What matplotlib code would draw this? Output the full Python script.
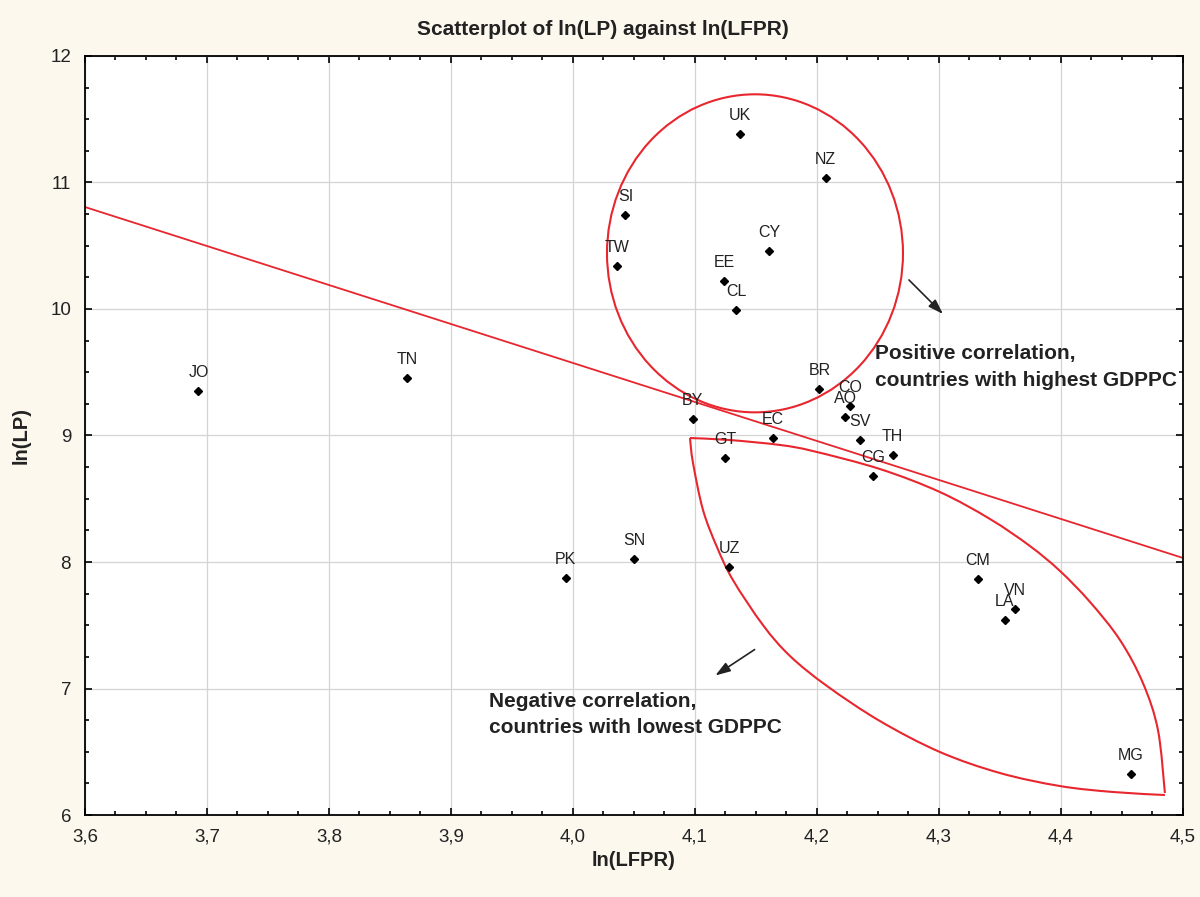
import numpy as np
import matplotlib
matplotlib.use("Agg")
import matplotlib.pyplot as plt
from matplotlib.patches import Ellipse, PathPatch
from matplotlib.path import Path
from matplotlib.ticker import MultipleLocator, FuncFormatter

plt.rcParams["font.family"] = ["Liberation Sans", "DejaVu Sans"]

# ---- data: country codes, ln(LFPR), ln(LP) ----
codes = ["JO", "TN", "PK", "SN", "SI", "TW", "UK", "NZ", "CY", "EE", "CL",
         "BR", "CO", "AO", "SV", "TH", "CG", "BY", "EC", "GT", "UZ",
         "CM", "VN", "LA", "MG"]
ln_lfpr = [3.693, 3.864, 3.994, 4.050, 4.043, 4.036, 4.137, 4.207, 4.161,
           4.124, 4.134, 4.202, 4.227, 4.223, 4.235, 4.262, 4.246, 4.098,
           4.164, 4.125, 4.128, 4.332, 4.362, 4.354, 4.457]
ln_lp = [9.352, 9.455, 7.874, 8.024, 10.743, 10.340, 11.383, 11.036, 10.458,
         10.221, 9.992, 9.368, 9.233, 9.146, 8.964, 8.846, 8.680, 9.130,
         8.980, 8.822, 7.960, 7.866, 7.628, 7.541, 6.324]

# fitted line end points
fit_x = [3.6, 4.5]
fit_y = [10.806, 8.032]

# circled group (high GDPPC): centre, width, height
circ_centre = (4.1492, 10.44)
circ_w, circ_h = 0.2426, 2.514

# lens-shaped group (low GDPPC), outline
lens_top_x = [4.0959, 4.1287, 4.1697, 4.1967, 4.2516, 4.3008, 4.3418, 4.3746,
              4.3992, 4.4238, 4.4484, 4.4672, 4.4795, 4.4852]
lens_top_y = [8.980, 8.964, 8.925, 8.877, 8.735, 8.553, 8.340, 8.126,
              7.929, 7.684, 7.383, 7.043, 6.672, 6.174]
lens_bot_x = [4.0959, 4.0984, 4.1066, 4.1180, 4.1311, 4.1557, 4.1779, 4.2082,
              4.2516, 4.3008, 4.3500, 4.3992, 4.4426, 4.4852]
lens_bot_y = [8.980, 8.783, 8.411, 8.119, 7.858, 7.502, 7.257, 7.020,
              6.743, 6.498, 6.332, 6.229, 6.182, 6.158]

RED = "#e8262e"
BG = "#fcf8ee"
INK = "#222222"


def smooth_path(xs, ys):
    # Catmull-Rom spline through the traced points, as cubic Bezier segments
    p = np.column_stack([xs, ys])
    p = np.vstack([p[0], p, p[-1]])
    verts = [p[1]]
    kinds = [Path.MOVETO]
    for i in range(1, len(p) - 2):
        c1 = p[i] + (p[i + 1] - p[i - 1]) / 6.0
        c2 = p[i + 1] - (p[i + 2] - p[i]) / 6.0
        verts += [c1, c2, p[i + 1]]
        kinds += [Path.CURVE4] * 3
    return Path(verts, kinds)


fig = plt.figure(figsize=(12, 8.97), dpi=100, facecolor=BG)
ax = fig.add_axes([0.0708, 0.0914, 0.915, 0.8462])
ax.set_facecolor("white")

ax.set_xlim(3.6, 4.5)
ax.set_ylim(6, 12)
ax.xaxis.set_major_locator(MultipleLocator(0.1))
ax.xaxis.set_minor_locator(MultipleLocator(0.025))
ax.yaxis.set_major_locator(MultipleLocator(1))
ax.yaxis.set_minor_locator(MultipleLocator(0.25))
ax.xaxis.set_major_formatter(FuncFormatter(lambda v, p: ("%.1f" % v).replace(".", ",")))
ax.yaxis.set_major_formatter(FuncFormatter(lambda v, p: "%d" % round(v)))
ax.tick_params(which="both", direction="in", top=True, right=True, width=1.2,
               labelcolor=INK)
ax.tick_params(which="major", length=5, labelsize=13.5, pad=10)
ax.tick_params(which="minor", length=3)
ax.grid(True, which="major", color="#d4d4d4", lw=0.9)
ax.set_axisbelow(True)
for s in ax.spines.values():
    s.set_linewidth(1.3)

# fitted line and group outlines
ax.plot(fit_x, fit_y, color=RED, lw=1.3, zorder=2)
ax.add_patch(Ellipse(circ_centre, circ_w, circ_h, fill=False, ec=RED, lw=1.5, zorder=2))
ax.add_patch(PathPatch(smooth_path(lens_top_x, lens_top_y), fill=False, ec=RED,
                       lw=1.5, zorder=2))
ax.add_patch(PathPatch(smooth_path(lens_bot_x, lens_bot_y), fill=False, ec=RED,
                       lw=1.5, zorder=2))

# points + labels
ax.plot(ln_lfpr, ln_lp, "D", ms=4.5, color="black", zorder=4)
for c, x, y in zip(codes, ln_lfpr, ln_lp):
    ax.annotate(c, (x, y), xytext=(0, 8), textcoords="offset points",
                ha="center", va="bottom", fontsize=11.5, color=INK, zorder=5)

# arrows and explanatory notes
arrow = dict(arrowstyle="-|>,head_length=0.9,head_width=0.3", color=INK, lw=1.2)
ax.annotate("", xy=(4.3049, 9.945), xytext=(4.2738, 10.245), arrowprops=arrow)
ax.annotate("", xy=(4.1148, 7.091), xytext=(4.1508, 7.320), arrowprops=arrow)
ax.text(4.2475, 9.72, "Positive correlation,\ncountries with highest GDPPC",
        fontsize=15, fontweight="bold", color=INK, va="top", ha="left",
        linespacing=1.5)
ax.text(3.9311, 6.975, "Negative correlation,\ncountries with lowest GDPPC",
        fontsize=15, fontweight="bold", color=INK, va="top", ha="left",
        linespacing=1.5)

ax.set_title("Scatterplot of ln(LP) against ln(LFPR)", fontsize=15,
             fontweight="bold", color=INK, pad=15, x=0.472)
ax.set_xlabel("ln(LFPR)", fontsize=14.5, fontweight="bold", color=INK, labelpad=4)
ax.set_ylabel("ln(LP)", fontsize=14.5, fontweight="bold", color=INK, labelpad=14)

fig.savefig("out.png", dpi=100, facecolor=BG)
